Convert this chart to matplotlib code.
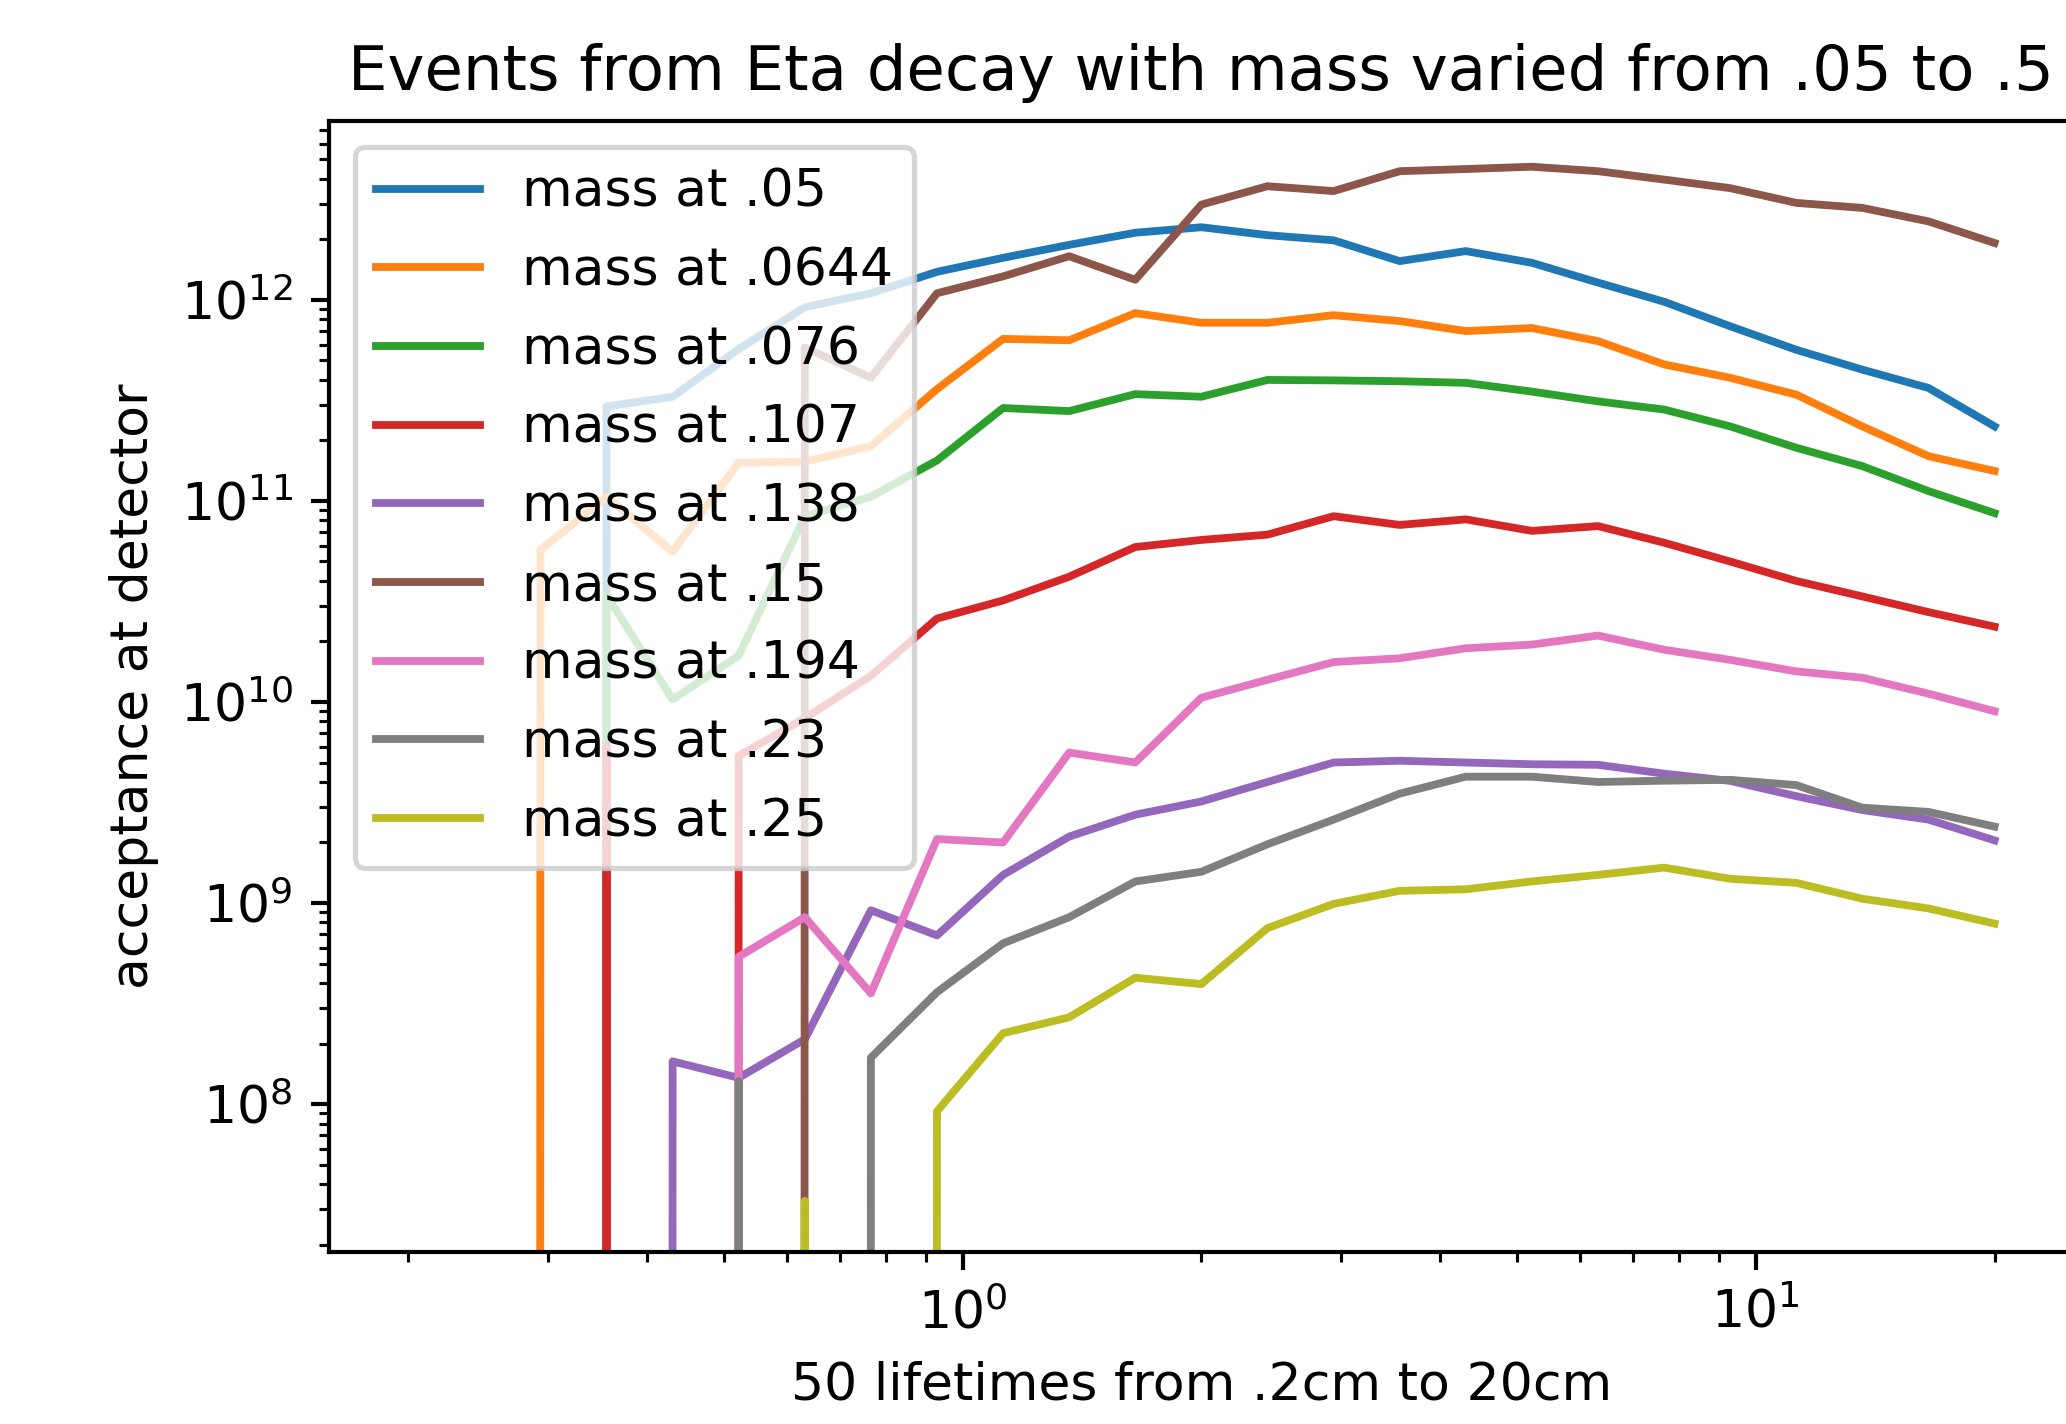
import matplotlib
matplotlib.use("Agg")
import matplotlib.pyplot as plt

# lifetimes (cm), 25 log-spaced points from .2 to 20
lifetimes = [0.2, 0.2423, 0.2936, 0.3557, 0.4309, 0.5220, 0.6325, 0.7662,
             0.9283, 1.1247, 1.3626, 1.6508, 2.0, 2.423, 2.936, 3.557,
             4.309, 5.220, 6.325, 7.662, 9.283, 11.247, 13.626, 16.508, 20.0]

mass_labels = [".05", ".0644", ".076", ".107", ".138", ".15", ".194", ".23", ".25"]

acc_050 = [0, 0, 0, 2.95e11, 3.3e11, 5.7e11, 9.2e11, 1.08e12, 1.38e12, 1.62e12,
           1.88e12, 2.16e12, 2.3e12, 2.1e12, 1.98e12, 1.56e12, 1.75e12, 1.53e12,
           1.22e12, 9.8e11, 7.4e11, 5.65e11, 4.5e11, 3.65e11, 2.35e11]
acc_0644 = [0, 0, 5.7e10, 1.05e11, 5.6e10, 1.55e11, 1.57e11, 1.87e11, 3.6e11, 6.4e11,
            6.3e11, 8.6e11, 7.7e11, 7.7e11, 8.4e11, 7.85e11, 7.0e11, 7.25e11,
            6.24e11, 4.78e11, 4.1e11, 3.38e11, 2.35e11, 1.67e11, 1.41e11]
acc_076 = [0, 0, 0, 3.4e10, 1.03e10, 1.7e10, 8.4e10, 1.05e11, 1.59e11, 2.9e11,
           2.8e11, 3.4e11, 3.3e11, 4.0e11, 3.98e11, 3.94e11, 3.87e11, 3.5e11,
           3.13e11, 2.85e11, 2.35e11, 1.84e11, 1.49e11, 1.12e11, 8.7e10]
acc_107 = [0, 0, 0, 6.0e9, 0, 5.4e9, 8.3e9, 1.35e10, 2.6e10, 3.2e10,
           4.2e10, 5.9e10, 6.4e10, 6.8e10, 8.4e10, 7.6e10, 8.1e10, 7.1e10,
           7.5e10, 6.2e10, 5.0e10, 4.0e10, 3.35e10, 2.8e10, 2.37e10]
acc_138 = [0, 0, 0, 0, 1.63e8, 1.35e8, 2.1e8, 9.2e8, 6.9e8, 1.38e9,
           2.14e9, 2.75e9, 3.2e9, 4.0e9, 5.0e9, 5.1e9, 5.0e9, 4.9e9,
           4.87e9, 4.4e9, 4.05e9, 3.4e9, 2.9e9, 2.6e9, 2.05e9]
acc_150 = [0, 0, 0, 0, 0, 0, 5.8e11, 4.1e11, 1.08e12, 1.31e12,
           1.65e12, 1.26e12, 2.98e12, 3.68e12, 3.48e12, 4.37e12, 4.48e12, 4.6e12,
           4.37e12, 3.97e12, 3.6e12, 3.04e12, 2.87e12, 2.46e12, 1.92e12]
acc_194 = [0, 0, 0, 0, 0, 5.4e8, 8.5e8, 3.55e8, 2.08e9, 2.0e9,
           5.6e9, 5.0e9, 1.05e10, 1.29e10, 1.58e10, 1.65e10, 1.85e10, 1.93e10,
           2.14e10, 1.82e10, 1.62e10, 1.42e10, 1.32e10, 1.1e10, 9.0e9]
acc_230 = [0, 0, 0, 0, 0, 1.3e8, 0, 1.7e8, 3.6e8, 6.3e8,
           8.5e8, 1.28e9, 1.43e9, 1.96e9, 2.6e9, 3.5e9, 4.25e9, 4.25e9,
           4.0e9, 4.06e9, 4.1e9, 3.86e9, 2.98e9, 2.84e9, 2.4e9]
acc_250 = [0, 0, 0, 0, 0, 0, 3.3e7, 0, 9.2e7, 2.25e8,
           2.7e8, 4.25e8, 3.95e8, 7.5e8, 9.9e8, 1.15e9, 1.17e9, 1.28e9,
           1.38e9, 1.5e9, 1.32e9, 1.26e9, 1.05e9, 9.4e8, 7.9e8]

series = [acc_050, acc_0644, acc_076, acc_107, acc_138, acc_150, acc_194, acc_230, acc_250]

DPI = 375
fig = plt.figure(figsize=(2066 / DPI, 1424 / DPI), dpi=DPI)
ax = fig.add_axes([0.1592, 0.1208, 0.8446, 0.7942])

for lab, vals in zip(mass_labels, series):
    ax.plot(lifetimes, vals, label="mass at " + lab)

ax.set_xscale("log")
ax.set_yscale("log")
ax.set_xlim(0.2 / 10 ** 0.1, 20 * 10 ** 0.1)
ax.set_ylim(10 ** 7.264, 10 ** 12.89)
ax.set_title("Events from Eta decay with mass varied from .05 to .5")
ax.set_xlabel("50 lifetimes from .2cm to 20cm")
ax.set_ylabel("acceptance at detector")
ax.legend(loc="upper left", labelspacing=0.55)

fig.savefig("out.png", dpi=DPI)
